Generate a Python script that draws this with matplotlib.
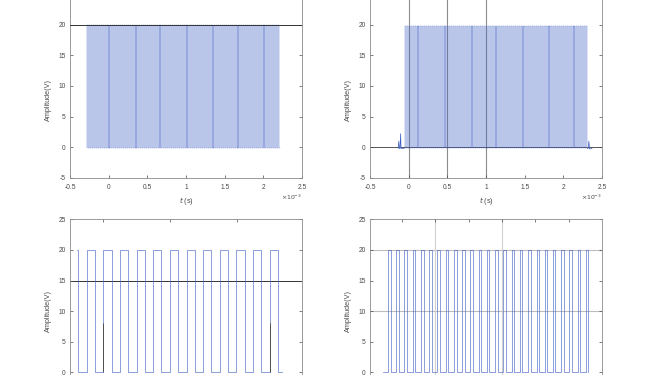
import matplotlib
matplotlib.use("Agg")
import matplotlib.pyplot as plt
from matplotlib.ticker import FuncFormatter
import numpy as np

plt.rcParams['font.family'] = ['Liberation Sans', 'DejaVu Sans']

# ---------------- data (time in ms, i.e. x10^-3 s) ----------------
HIGH = 20.0
LOW = -0.1

# top-left: dense pulse train (rising edge times)
tl_rise = [-0.276, -0.251, -0.226, -0.201, -0.176, -0.152, -0.127, -0.102, -0.077, -0.052,
           -0.027, -0.002, 0.023, 0.048, 0.073, 0.098, 0.122, 0.147, 0.172, 0.197,
           0.222, 0.247, 0.272, 0.297, 0.322, 0.347, 0.371, 0.396, 0.421, 0.446,
           0.471, 0.496, 0.521, 0.546, 0.571, 0.596, 0.620, 0.645, 0.670, 0.695,
           0.720, 0.745, 0.770, 0.795, 0.820, 0.845, 0.869, 0.894, 0.919, 0.944,
           0.969, 0.994, 1.019, 1.044, 1.069, 1.094, 1.118, 1.143, 1.168, 1.193,
           1.218, 1.243, 1.268, 1.293, 1.318, 1.343, 1.367, 1.392, 1.417, 1.442,
           1.467, 1.492, 1.517, 1.542, 1.567, 1.592, 1.616, 1.641, 1.666, 1.691,
           1.716, 1.741, 1.766, 1.791, 1.816, 1.841, 1.865, 1.890, 1.915, 1.940,
           1.965, 1.990, 2.015, 2.040, 2.065, 2.090, 2.114, 2.139, 2.164, 2.189]
tl_width = 0.0125
tl_span = [-0.285, 2.215]

# top-right: dense pulse train (rising edge times)
tr_rise = [-0.047, -0.022, 0.003, 0.028, 0.053, 0.078, 0.102, 0.127, 0.152, 0.177,
           0.202, 0.227, 0.252, 0.277, 0.302, 0.327, 0.351, 0.376, 0.401, 0.426,
           0.451, 0.476, 0.501, 0.526, 0.551, 0.576, 0.600, 0.625, 0.650, 0.675,
           0.700, 0.725, 0.750, 0.775, 0.800, 0.825, 0.849, 0.874, 0.899, 0.924,
           0.949, 0.974, 0.999, 1.024, 1.049, 1.074, 1.098, 1.123, 1.148, 1.173,
           1.198, 1.223, 1.248, 1.273, 1.298, 1.323, 1.347, 1.372, 1.397, 1.422,
           1.447, 1.472, 1.497, 1.522, 1.547, 1.572, 1.596, 1.621, 1.646, 1.671,
           1.696, 1.721, 1.746, 1.771, 1.796, 1.821, 1.845, 1.870, 1.895, 1.920,
           1.945, 1.970, 1.995, 2.020, 2.045, 2.070, 2.094, 2.119, 2.144, 2.169,
           2.194, 2.219, 2.244, 2.269, 2.294]
tr_width = 0.0125
tr_high = 19.8
tr_pre_t = [-0.135, -0.128, -0.120, -0.112, -0.104, -0.098, -0.092, -0.085, -0.060]
tr_pre_v = [-0.2, 1.0, -0.2, -0.2, 2.2, -0.2, -0.1, -0.2, -0.2]
tr_post_t = [2.310, 2.322, 2.330, 2.340, 2.370]
tr_post_v = [-0.2, -0.2, 1.0, -0.3, -0.2]

# bottom-left: zoomed square wave
bl_start = [0.4612, 0.4631]          # starts high, then falls
bl_rise = [0.4756, 0.5004, 0.5252, 0.5501, 0.5749, 0.5997,
           0.6246, 0.6494, 0.6742, 0.6991, 0.7239, 0.7487]
bl_fall = [0.4879, 0.5127, 0.5375, 0.5624, 0.5872, 0.6120,
           0.6369, 0.6617, 0.6865, 0.7114, 0.7362, 0.7610]
bl_end = 0.7671
bl_dark_t = [0.5004, 0.7487]
bl_dark_top = 8.0

# bottom-right: zoomed narrow pulses
br_rise = [0.2580, 0.2828, 0.3075, 0.3323, 0.3571, 0.3819, 0.4066, 0.4314, 0.4562,
           0.4809, 0.5057, 0.5305, 0.5552, 0.5800, 0.6048, 0.6296, 0.6543, 0.6791,
           0.7039, 0.7286, 0.7534, 0.7782, 0.8029, 0.8277, 0.8525]
br_width = 0.0075
br_span = [0.2429, 0.8586]

# reference lines
tl_hline = [20]
tr_vlines = [0.0, 0.5, 1.0]
tr_hline = [0]
bl_hline = [15]
br_hlines = [10, 20]
br_vlines = [0.4, 0.6]

top_xticks = [-0.5, 0, 0.5, 1, 1.5, 2, 2.5]
top_yticks = [-5, 0, 5, 10, 15, 20]
bot_yticks = [0, 5, 10, 15, 20, 25]
bl_xticks = [0.5, 0.6, 0.7]
br_xticks = [0.3, 0.4, 0.5, 0.6, 0.7, 0.8]


def train(rises, widths, hi, lo, span):
    xs = [span[0]]
    ys = [lo]
    for r in rises:
        f = r + widths
        xs += [r, r, f, f]
        ys += [lo, hi, hi, lo]
    xs.append(span[1])
    ys.append(lo)
    return np.array(xs), np.array(ys)


# ---------------- figure ----------------
W, H = 655, 375
fig = plt.figure(figsize=(W / 100, H / 100), dpi=100)


def px_axes(left, right, top_px, bottom_px):
    return fig.add_axes([left / W, 1 - bottom_px / H, (right - left) / W,
                         (bottom_px - top_px) / H])


LINE = '#4060c4'
TXT = '#4a4a4a'
SPINE = '#8a8a8a'

ax_tl = px_axes(70, 302, -5.7, 177.7)
ax_tr = px_axes(370, 602, -5.7, 177.7)
ax_bl = px_axes(70, 302, 219.3, 402.9)
ax_br = px_axes(370, 602, 219.3, 402.9)

fmt = FuncFormatter(lambda v, p: '%g' % round(v, 6))

for ax in (ax_tl, ax_tr, ax_bl, ax_br):
    ax.set_ylim(-5, 25)
    ax.tick_params(direction='in', length=2.2, width=0.5, top=True, right=True,
                   labelsize=4.8, colors=TXT, pad=3)
    ax.tick_params(axis='x', pad=4.2)
    for s in ax.spines.values():
        s.set_color(SPINE)
        s.set_linewidth(0.6)
    ax.xaxis.set_major_formatter(fmt)
    ax.yaxis.set_major_formatter(fmt)

# top-left
x, y = train(tl_rise, tl_width, HIGH, LOW, tl_span)
for v in tl_hline:
    ax_tl.axhline(v, color='#333333', lw=0.7, zorder=3)
ax_tl.plot(x, y, color=LINE, lw=0.32, alpha=0.8, zorder=2)
ax_tl.set_xlim(-0.5, 2.5)

# top-right
x, y = train(tr_rise, tr_width, tr_high, -0.2, [tr_pre_t[-1], tr_post_t[0]])
for v in tr_vlines:
    ax_tr.axvline(v, color='#8c8c8c', lw=0.8, zorder=1)
for v in tr_hline:
    ax_tr.axhline(v, color='#555555', lw=0.7, zorder=1)
ax_tr.plot(x, y, color=LINE, lw=0.32, alpha=0.8, zorder=2)
ax_tr.plot(tr_pre_t, tr_pre_v, color=LINE, lw=0.5, zorder=2)
ax_tr.plot(tr_post_t, tr_post_v, color=LINE, lw=0.5, zorder=2)
ax_tr.set_xlim(-0.5, 2.5)

for ax in (ax_tl, ax_tr):
    ax.set_xticks(top_xticks)
    ax.set_yticks(top_yticks)
    ax.set_xlabel(r'$\it{t}$ (s)', fontsize=5.2, color=TXT)
    ax.xaxis.set_label_coords(0.5, -0.092)
    ax.set_ylabel('Amplitude(V)', fontsize=5.2, color=TXT)
    ax.yaxis.set_label_coords(-0.078, 0.424)
    ax.text(1.0, -0.105, r'$\times10^{-3}$', transform=ax.transAxes, ha='right',
            va='center', fontsize=4.4, color=TXT)

# bottom-left
bx = [bl_start[0], bl_start[1], bl_start[1]]
by = [HIGH, HIGH, 0]
for r, f in zip(bl_rise, bl_fall):
    bx += [r, r, f, f]
    by += [0, HIGH, HIGH, 0]
bx.append(bl_end)
by.append(0)
for v in bl_hline:
    ax_bl.axhline(v, color='#333333', lw=0.7, zorder=1)
ax_bl.plot(bx, by, color=LINE, lw=0.6, alpha=0.7, zorder=2)
ax_bl.vlines(bl_dark_t, 0, bl_dark_top, color='#505050', lw=0.7, zorder=3)
ax_bl.set_xlim(0.4507, 0.4507 + 232 / 670)
ax_bl.set_xticks(bl_xticks)

# bottom-right
x, y = train(br_rise, br_width, HIGH, 0, br_span)
for v in br_hlines:
    ax_br.axhline(v, color='#bdbdbd', lw=0.8, zorder=1)
for v in br_vlines:
    ax_br.axvline(v, color='#d0d0d0', lw=0.8, zorder=1)
ax_br.plot(x, y, color=LINE, lw=0.6, alpha=0.7, zorder=2)
ax_br.set_xlim(0.2039, 0.2039 + 232 / 333)
ax_br.set_xticks(br_xticks)

for ax in (ax_bl, ax_br):
    ax.set_yticks(bot_yticks)
    ax.tick_params(axis='x', labelbottom=False)
    ax.set_ylabel('Amplitude(V)', fontsize=5.2, color=TXT)
    ax.yaxis.set_label_coords(-0.078, 0.5)

fig.savefig('out.png', dpi=100)
